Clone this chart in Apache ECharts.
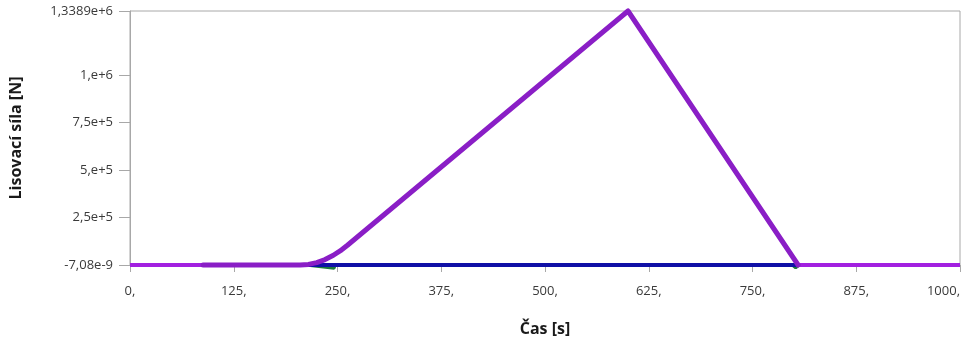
<!DOCTYPE html>
<html>
<head>
<meta charset="utf-8">
<script src="https://cdn.jsdelivr.net/npm/echarts@6/dist/echarts.min.js"></script>
<style>
  html, body { margin: 0; padding: 0; background: #ffffff; }
  #chart { width: 963px; height: 342px; }
</style>
</head>
<body>
<div id="chart"></div>
<script>
// Time axis ticks [s]
var xTicks = [0, 125, 250, 375, 500, 625, 750, 875, 1000];
// Force axis ticks [N] and their printed labels
var yTicks = [0, 250000, 500000, 750000, 1000000, 1338900];
var yTickLabels = ['-7,08e-9', '2,5e+5', '5,e+5', '7,5e+5', '1,e+6', '1,3389e+6'];

// Pressing force over time
var forceTime  = [88, 205, 215, 225, 235, 245, 255, 262, 600, 805];
var forceValue = [0, 0, 3200, 12800, 28800, 51300, 80100, 104100, 1338900, 0];

// Baseline (zero) before and after contact
var baseTime  = [0, 1000];
var baseValue = [0, 0];

// Reference level during contact
var contactTime  = [205, 805];
var contactValue = [0, 0];

// Small reaction dips
var dipTime  = [212, 246, 247, 798, 802, 806];
var dipValue = [0, -17000, 0, 0, -15000, 0];

function pairs(xs, ys) {
  return xs.map(function (x, i) { return [x, ys[i]]; });
}

var chart = echarts.init(document.getElementById('chart'));
var labelFont = '"Open Sans", "Noto Sans", sans-serif';

chart.setOption({
  animation: false,
  backgroundColor: '#ffffff',
  grid: {
    left: 130, right: 3, top: 11, bottom: 77,
    outerBoundsMode: 'none',
    containLabel: false,
    show: true, borderColor: '#a8a8a8', borderWidth: 1, backgroundColor: 'transparent'
  },
  xAxis: {
    type: 'value',
    min: 0, max: 1000, interval: 125,
    name: 'Čas [s]',
    nameLocation: 'middle',
    nameGap: 56,
    nameTextStyle: { fontFamily: labelFont, fontWeight: 'bold', fontSize: 16, color: '#1a1a1a' },
    axisLine: { show: true, lineStyle: { color: '#a8a8a8', width: 1 } },
    axisTick: { show: true, length: 7, lineStyle: { color: '#a8a8a8' } },
    axisLabel: {
      fontFamily: labelFont, fontSize: 13, color: '#3a3a3a', margin: 20,
      showMaxLabel: true,
      alignMaxLabel: 'right',
      formatter: function (v) { return v + ','; }
    },
    splitLine: { show: false }
  },
  yAxis: {
    type: 'value',
    min: 0, max: 1338900,
    name: 'Lisovací síla [N]',
    nameLocation: 'middle',
    nameGap: 106,
    nameRotate: 90,
    nameTextStyle: { fontFamily: labelFont, fontWeight: 'bold', fontSize: 16, color: '#1a1a1a' },
    axisLine: { show: true, lineStyle: { color: '#a8a8a8', width: 1 } },
    axisTick: { show: true, length: 11, customValues: yTicks, lineStyle: { color: '#a8a8a8' } },
    axisLabel: {
      fontFamily: labelFont, fontSize: 13, color: '#3a3a3a', margin: 17,
      customValues: yTicks,
      formatter: function (v) {
        var i = yTicks.indexOf(v);
        return i >= 0 ? yTickLabels[i] : '';
      }
    },
    splitLine: { show: false }
  },
  series: [
    {
      type: 'line', data: pairs(baseTime, baseValue), showSymbol: false, z: 2, clip: false,
      lineStyle: { color: '#a21fe0', width: 4 }
    },
    {
      type: 'line', data: pairs(dipTime, dipValue), showSymbol: false, z: 3, clip: false,
      lineStyle: { color: '#1d7a3c', width: 3 }
    },
    {
      type: 'line', data: pairs(contactTime, contactValue), showSymbol: false, z: 4, clip: false,
      lineStyle: { color: '#1010a6', width: 4 }
    },
    {
      type: 'line', data: pairs(forceTime, forceValue), showSymbol: false, z: 5, clip: false,
      lineStyle: { color: '#8a1ec6', width: 5, join: 'round', cap: 'round' }
    }
  ]
});
</script>
</body>
</html>
